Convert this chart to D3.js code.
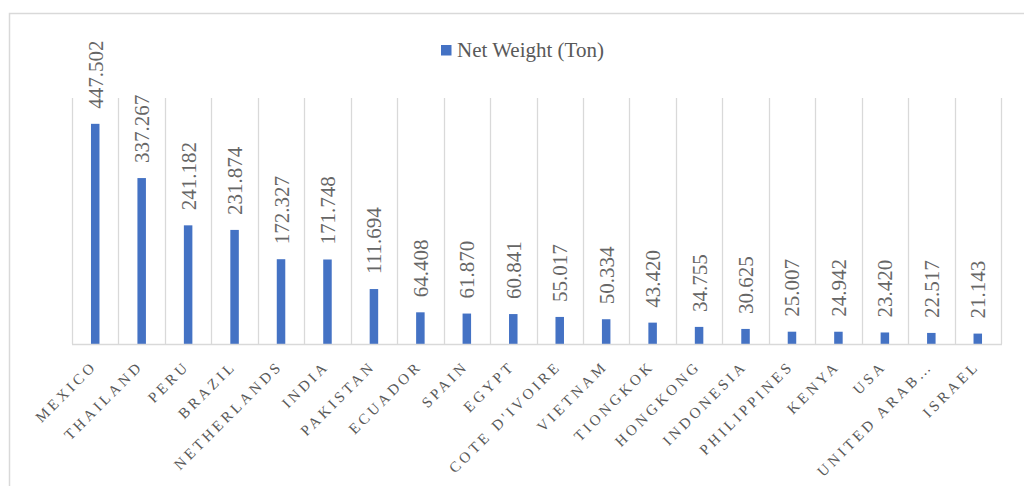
<!DOCTYPE html>
<html>
<head>
<meta charset="utf-8">
<script src="https://cdn.jsdelivr.net/npm/d3@7"></script>
<style>
  html, body { margin: 0; padding: 0; background: #fff; }
  svg text { font-family: "Liberation Serif", "DejaVu Serif", serif; }
</style>
</head>
<body>
<svg id="chart" width="1024" height="486"></svg>
<script>
// Net weight exported by destination country (tons)
const countries = ["MEXICO", "THAILAND", "PERU", "BRAZIL", "NETHERLANDS", "INDIA", "PAKISTAN",
  "ECUADOR", "SPAIN", "EGYPT", "COTE D'IVOIRE", "VIETNAM", "TIONGKOK", "HONGKONG",
  "INDONESIA", "PHILIPPINES", "KENYA", "USA", "UNITED ARAB…", "ISRAEL"];
const netWeight = [447.502, 337.267, 241.182, 231.874, 172.327, 171.748, 111.694,
  64.408, 61.870, 60.841, 55.017, 50.334, 43.420, 34.755,
  30.625, 25.007, 24.942, 23.420, 22.517, 21.143];
const valueDomain = [0, 500];
const seriesName = "Net Weight (Ton)";

const svg = d3.select("#chart");
const plot = { left: 72, right: 1001, top: 98, bottom: 344 };
const barColor = "#4472C4";
const gridColor = "#d9d9d9";
const textColor = "#595959";
const serif = "Liberation Serif";

// outer chart frame
svg.append("rect")
  .attr("x", 9.5).attr("y", 13.5)
  .attr("width", 1200).attr("height", 700)
  .attr("fill", "none").attr("stroke", gridColor).attr("stroke-width", 1.5);

const x = d3.scaleBand().domain(countries).range([plot.left, plot.right]).paddingInner(0).paddingOuter(0);
const y = d3.scaleLinear().domain(valueDomain).range([plot.bottom, plot.top]);

// vertical separators between categories
const bounds = countries.map(c => x(c)).concat([plot.right]);
svg.append("g").selectAll("line").data(bounds).join("line")
  .attr("x1", d => Math.round(d) + 0.5).attr("x2", d => Math.round(d) + 0.5)
  .attr("y1", plot.top).attr("y2", plot.bottom)
  .attr("stroke", gridColor).attr("stroke-width", 1.3);

// bars
const barW = 8.5;
svg.append("g").selectAll("rect").data(countries).join("rect")
  .attr("x", (d) => x(d) + x.bandwidth() / 2 - barW / 2)
  .attr("y", (d, i) => y(netWeight[i]))
  .attr("width", barW)
  .attr("height", (d, i) => y(0) - y(netWeight[i]))
  .attr("fill", barColor);

// category axis line
svg.append("line")
  .attr("x1", plot.left).attr("x2", plot.right + 1)
  .attr("y1", plot.bottom + 0.5).attr("y2", plot.bottom + 0.5)
  .attr("stroke", gridColor).attr("stroke-width", 1.6);

// value labels, rotated above each bar
svg.append("g").selectAll("text").data(countries).join("text")
  .attr("transform", (d, i) => `translate(${x(d) + x.bandwidth() / 2 + 7.5},${y(netWeight[i]) - 15}) rotate(-90)`)
  .attr("text-anchor", "start")
  .attr("font-family", serif)
  .attr("font-size", 21)
  .attr("fill", "#666")
  .text((d, i) => netWeight[i].toFixed(3));

// category labels at 45 degrees
svg.append("g").selectAll("text").data(countries).join("text")
  .attr("transform", d => `translate(${x(d) + x.bandwidth() / 2 + 2.5},${plot.bottom + 23}) rotate(-45)`)
  .attr("text-anchor", "end")
  .attr("font-family", serif)
  .attr("font-size", 15)
  .attr("letter-spacing", 3.4)
  .attr("fill", textColor)
  .text(d => d);

// legend
const legend = svg.append("g").attr("transform", "translate(441,45)");
legend.append("rect").attr("width", 10.5).attr("height", 10.5).attr("fill", barColor);
legend.append("text").attr("x", 16).attr("y", 11.5)
  .attr("font-family", serif)
  .attr("font-size", 21).attr("fill", textColor).text(seriesName);
</script>
</body>
</html>
